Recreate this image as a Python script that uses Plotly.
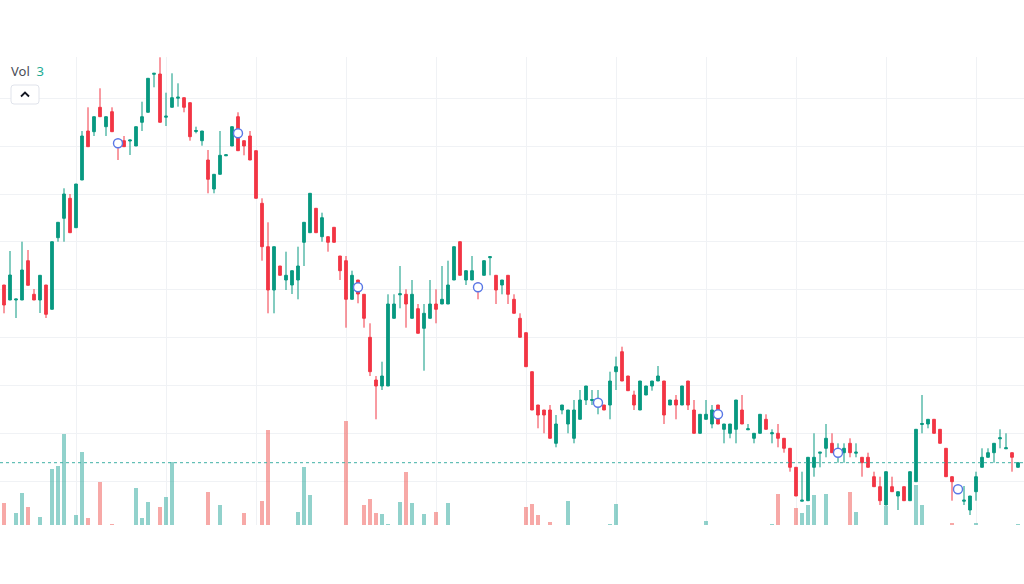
import plotly.graph_objects as go

# ---- data ----
opens = [
    24.5, 23.0, 23.0, 23.0, 26.93, 23.57, 23.0, 24.5, 22.07, 29.23,
    31.17, 33.17, 30.23, 35.0, 39.9, 39.83, 42.27, 40.33, 41.83, 38.9,
    38.93, 38.9, 38.4, 40.77, 41.77, 45.57, 45.6, 41.28, 42.27, 43.18,
    43.23, 42.73, 39.85, 38.93, 37.0, 34.1, 35.57, 37.42, 38.4, 41.33,
    38.93, 39.4, 37.93, 32.67, 28.33, 24.0, 26.4, 25.0, 24.5, 25.0,
    28.77, 29.73, 32.17, 29.33, 29.33, 30.27, 27.4, 26.93, 23.07, 25.0,
    23.57, 19.27, 15.0, 14.4, 14.4, 21.17, 23.52, 23.57, 21.17, 22.13,
    20.17, 21.17, 22.6, 22.6, 22.6, 25.0, 28.83, 25.0, 25.0, 24.7,
    25.47, 27.23, 25.47, 24.5, 25.47, 23.07, 21.17, 19.73, 15.83, 12.5,
    12.0, 12.0, 8.67, 12.0, 10.6, 9.17, 11.07, 13.0, 12.95, 12.5,
    12.5, 12.5, 15.83, 17.83, 15.4, 13.5, 12.0, 13.5, 14.4, 14.9,
    14.9, 12.5, 13.0, 12.5, 14.9, 12.0, 9.67, 11.07, 10.6, 12.5,
    10.07, 9.67, 10.07, 12.0, 10.02, 9.17, 9.67, 11.07, 9.62, 9.67,
    9.17, 8.17, 6.27, 2.88, 2.93, 6.27, 7.68, 8.17, 8.67, 7.5,
    7.73, 8.67, 7.68, 7.27, 7.27, 5.33, 4.33, 2.5, 4.33, 3.4,
    4.33, 2.93, 4.83, 10.55, 10.6, 11.07, 10.07, 8.17, 5.33, 4.3,
    2.88, 2.0, 3.83, 6.27, 7.27, 7.73, 9.12, 8.12, 7.73, 6.27,
]
highs = [
    24.5, 27.9, 23.1, 28.83, 28.0, 24.1, 25.47, 24.5, 28.83, 30.77,
    34.17, 33.6, 34.6, 39.9, 42.27, 41.33, 44.17, 41.33, 42.27, 39.0,
    39.4, 39.0, 40.33, 42.83, 45.17, 45.67, 47.27, 43.73, 45.67, 44.67,
    43.23, 42.73, 40.33, 39.9, 38.0, 35.57, 39.9, 37.52, 40.33, 41.77,
    38.93, 39.9, 37.93, 33.17, 30.77, 28.33, 26.4, 27.83, 25.93, 28.33,
    30.77, 33.67, 32.17, 31.73, 29.33, 30.27, 27.4, 27.4, 25.93, 25.0,
    23.57, 20.67, 15.4, 16.83, 23.57, 23.57, 26.4, 24.07, 25.0, 22.6,
    22.6, 25.0, 24.07, 26.4, 26.93, 28.33, 28.83, 25.93, 27.4, 24.7,
    26.93, 27.33, 25.47, 25.0, 25.47, 23.57, 21.67, 19.73, 15.83, 12.5,
    12.0, 12.5, 11.5, 12.5, 12.0, 13.0, 14.0, 14.4, 14.0, 14.0,
    12.5, 15.83, 17.33, 18.33, 15.4, 13.93, 14.9, 14.4, 14.9, 16.4,
    14.9, 13.0, 13.5, 14.4, 14.9, 13.0, 11.57, 13.0, 12.5, 12.5,
    10.6, 10.6, 13.0, 13.5, 10.6, 9.67, 11.57, 11.57, 10.07, 10.6,
    9.17, 8.17, 6.27, 5.83, 7.27, 9.67, 7.78, 10.6, 9.67, 8.67,
    8.67, 9.17, 8.67, 7.27, 7.73, 5.83, 5.33, 5.83, 5.33, 3.83,
    4.33, 5.83, 10.07, 13.5, 11.07, 11.07, 10.07, 8.17, 5.33, 4.4,
    4.4, 3.4, 5.83, 8.17, 8.17, 8.67, 10.07, 9.67, 7.73, 6.73,
]
lows = [
    21.67, 23.0, 21.2, 23.0, 24.47, 23.0, 21.7, 21.2, 22.07, 28.83,
    28.83, 29.73, 30.23, 35.0, 38.33, 39.4, 41.33, 39.4, 39.83, 37.0,
    38.33, 37.5, 38.4, 39.9, 41.77, 44.27, 40.77, 40.4, 42.27, 42.33,
    41.77, 38.93, 39.67, 38.43, 33.67, 33.67, 35.57, 37.42, 38.4, 37.93,
    37.47, 37.0, 33.17, 26.93, 21.67, 21.67, 25.47, 24.0, 23.6, 23.07,
    26.4, 29.73, 29.73, 28.83, 27.83, 28.77, 25.0, 20.23, 23.07, 22.67,
    20.23, 15.4, 11.07, 14.0, 14.4, 21.17, 22.17, 20.23, 21.17, 19.67,
    15.93, 21.17, 20.67, 22.6, 22.6, 25.0, 25.47, 24.5, 25.0, 23.07,
    25.47, 25.47, 22.6, 23.57, 22.6, 21.67, 19.27, 16.33, 12.0, 10.17,
    9.67, 9.17, 8.27, 11.57, 9.67, 8.67, 11.07, 12.5, 12.5, 11.57,
    12.0, 11.07, 14.0, 14.9, 13.93, 12.0, 12.0, 13.5, 13.93, 14.9,
    10.6, 12.5, 11.07, 12.5, 12.0, 9.67, 9.67, 11.07, 10.17, 10.6,
    8.67, 9.17, 8.67, 10.6, 10.02, 8.67, 9.67, 10.07, 8.67, 8.27,
    7.73, 5.83, 3.4, 2.88, 2.93, 5.33, 6.27, 7.27, 7.73, 6.73,
    6.73, 7.27, 7.27, 5.33, 6.27, 4.33, 2.5, 2.5, 3.83, 2.0,
    2.93, 2.93, 4.83, 9.67, 10.17, 9.67, 8.67, 5.33, 2.93, 3.8,
    2.5, 1.5, 2.93, 6.27, 7.27, 6.73, 8.17, 8.12, 5.83, 6.27,
]
closes = [
    22.5, 25.5, 23.1, 26.0, 24.47, 23.0, 25.47, 21.57, 28.83, 30.77,
    33.6, 29.73, 34.6, 39.4, 38.33, 41.33, 41.33, 41.33, 39.83, 38.4,
    38.33, 39.0, 40.33, 41.33, 45.17, 45.67, 40.77, 41.38, 43.23, 43.28,
    42.27, 39.33, 39.95, 39.9, 35.07, 35.57, 37.47, 37.52, 40.33, 37.93,
    38.4, 37.0, 33.17, 28.33, 24.0, 28.33, 25.47, 25.47, 25.93, 26.4,
    30.77, 33.67, 29.73, 31.23, 28.77, 28.77, 25.93, 23.07, 25.47, 23.6,
    21.17, 15.83, 14.4, 15.4, 22.6, 22.6, 23.62, 22.6, 23.57, 19.67,
    21.67, 22.6, 22.07, 23.07, 24.5, 28.33, 25.47, 25.93, 25.93, 24.1,
    26.93, 27.33, 24.0, 25.0, 23.57, 21.67, 19.27, 16.33, 12.0, 11.5,
    11.5, 9.17, 10.6, 12.5, 12.0, 12.0, 13.0, 14.4, 13.05, 13.0,
    12.0, 14.9, 16.33, 14.9, 13.93, 12.5, 14.9, 14.4, 14.9, 15.4,
    11.5, 13.0, 12.5, 14.4, 12.5, 9.67, 11.57, 11.57, 12.0, 10.6,
    10.6, 10.6, 13.0, 10.6, 10.12, 9.67, 11.57, 10.07, 9.72, 9.17,
    8.17, 6.27, 3.4, 2.98, 7.27, 7.27, 7.78, 9.17, 7.73, 8.0,
    8.17, 7.73, 7.78, 6.73, 6.27, 4.33, 2.93, 5.83, 3.83, 3.83,
    2.93, 5.83, 10.07, 10.65, 11.07, 9.67, 8.67, 5.33, 4.83, 3.9,
    2.98, 3.4, 5.33, 7.27, 7.73, 8.67, 9.22, 8.22, 7.27, 6.73,
]
volumes = [
    65, 0, 37, 97, 53, 0, 23, 0, 167, 177,
    272, 0, 30, 220, 20, 0, 130, 0, 3, 0,
    0, 0, 112, 20, 68, 0, 53, 83, 190, 0,
    0, 0, 0, 0, 99, 0, 60, 0, 0, 0,
    37, 0, 0, 73, 285, 0, 0, 0, 0, 39,
    175, 90, 0, 0, 0, 0, 0, 313, 0, 0,
    60, 77, 37, 33, 3, 0, 68, 160, 67, 0,
    33, 0, 39, 0, 67, 0, 0, 0, 0, 0,
    0, 0, 0, 0, 0, 0, 0, 53, 62, 30,
    0, 9, 0, 0, 73, 0, 0, 0, 0, 0,
    0, 3, 62, 0, 0, 0, 0, 0, 0, 0,
    0, 0, 0, 0, 0, 0, 0, 13, 0, 0,
    0, 0, 0, 0, 0, 0, 0, 0, 3, 93,
    0, 0, 51, 37, 59, 90, 0, 93, 0, 0,
    0, 99, 39, 0, 0, 0, 0, 57, 0, 0,
    0, 0, 120, 60, 0, 0, 0, 0, 5, 0,
    0, 0, 5, 0, 0, 0, 0, 0, 0, 3,
]
marker_idx = [19, 39, 59, 79, 99, 119, 139, 159]
marker_price = [38.67, 39.67, 24.27, 24.27, 12.73, 11.57, 7.73, 4.07]
legend_name = "Vol"

# ---- styling ----
UP = "#089981"
DOWN = "#F23645"
VOL_UP = "rgba(38,166,154,0.5)"
VOL_DOWN = "rgba(239,83,80,0.5)"
GRID = "#f0f2f5"

x = list(range(len(opens)))
vol_colors = [VOL_UP if c >= o else VOL_DOWN for o, c in zip(opens, closes)]
legend_value = str(volumes[-1])

fig = go.Figure()
fig.add_trace(go.Bar(
    x=x, y=volumes, yaxis="y", width=0.8,
    marker=dict(color=vol_colors, line=dict(width=0)),
    hoverinfo="skip", showlegend=False,
))
fig.add_trace(go.Candlestick(
    x=x, open=opens, high=highs, low=lows, close=closes, yaxis="y2",
    increasing=dict(line=dict(color=UP, width=1), fillcolor=UP),
    decreasing=dict(line=dict(color=DOWN, width=1), fillcolor=DOWN),
    whiskerwidth=0, showlegend=False,
))
fig.add_trace(go.Scatter(
    x=marker_idx, y=marker_price, yaxis="y2", mode="markers",
    marker=dict(symbol="circle", size=9, color="white",
                line=dict(color="#5a78e6", width=1.4)),
    hoverinfo="skip", showlegend=False,
))

# last price dotted line
fig.add_shape(type="line", xref="paper", x0=0, x1=1, yref="y2",
              y0=closes[-1], y1=closes[-1],
              line=dict(color="#3fb1a5", width=1, dash="dot"), layer="above")

# legend text
fig.add_annotation(
    xref="paper", yref="paper", x=9 / 1024, y=(525 - 71) / 468,
    xanchor="left", yanchor="middle", showarrow=False,
    text=f"{legend_name}&nbsp;&nbsp;<span style='color:#22ab94'>{legend_value}</span>",
    font=dict(family="Noto Sans, Open Sans, sans-serif", size=13, color="#4a4d57"),
)
# collapse button
bx, by = 25 / 1024, (525 - 94.5) / 468
fig.add_shape(type="path", xref="paper", yref="paper",
              xsizemode="pixel", ysizemode="pixel", xanchor=bx, yanchor=by,
              path="M -11,-9.5 L 11,-9.5 Q 14,-9.5 14,-6.5 L 14,6.5 Q 14,9.5 11,9.5 "
                   "L -11,9.5 Q -14,9.5 -14,6.5 L -14,-6.5 Q -14,-9.5 -11,-9.5 Z",
              line=dict(color="#e0e3eb", width=1), fillcolor="white", layer="above")
fig.add_shape(type="path", xref="paper", yref="paper",
              xsizemode="pixel", ysizemode="pixel", xanchor=bx, yanchor=by,
              path="M -4,-2 L 0,2 L 4,-2",
              line=dict(color="#131722", width=1.8), layer="above")

fig.update_layout(
    width=1024, height=584,
    margin=dict(l=0, r=0, t=57, b=59),
    paper_bgcolor="white", plot_bgcolor="white",
    showlegend=False, bargap=0,
    boxgap=0.35,
    xaxis=dict(range=[-4 / 6, 1020 / 6], rangeslider=dict(visible=False),
               showgrid=True, gridcolor=GRID, gridwidth=1, tick0=12, dtick=15,
               showticklabels=False, ticks="", zeroline=False, showline=False),
    yaxis=dict(range=[0, 1404], showgrid=False, showticklabels=False,
               zeroline=False, showline=False, ticks=""),
    yaxis2=dict(overlaying="y", side="right", range=[0.5, 47.3],
                showgrid=True, gridcolor=GRID, gridwidth=1, tick0=4.87, dtick=4.787,
                showticklabels=False, ticks="", zeroline=False, showline=False),
)

fig.write_html("out.html")
